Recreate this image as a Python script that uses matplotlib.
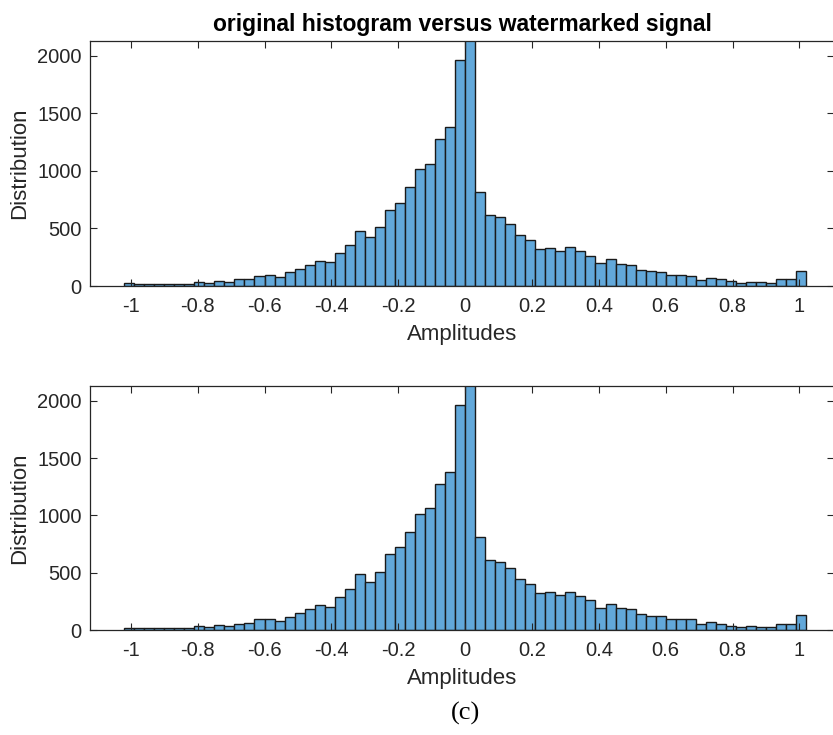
import numpy as np
import matplotlib.pyplot as plt

# histogram bins: 68 bins of width 0.03 from -1.02 to 1.02
bin_lo = -1.02
bin_w = 0.03
n_bins = 68

# counts per bin, original signal
orig_counts = [
    23, 14, 14, 20, 20, 14, 14, 32, 23, 46, 35, 61, 61, 87, 95, 78, 119,
    147, 185, 220, 206, 289, 353, 477, 425, 509, 665, 720, 862, 1016, 1062,
    1276, 1383, 1962, 2700, 816, 613, 596, 541, 446, 399, 321, 333, 307,
    336, 301, 263, 197, 231, 188, 179, 142, 127, 121, 95, 95, 90, 52, 72,
    58, 41, 23, 38, 32, 23, 58, 58, 127,
]

# counts per bin, watermarked signal
wm_counts = [
    20, 15, 15, 17, 17, 15, 15, 32, 23, 47, 32, 55, 58, 93, 93, 76, 110,
    146, 183, 215, 201, 288, 355, 489, 416, 506, 667, 722, 855, 1016, 1062,
    1277, 1379, 1964, 2700, 812, 608, 597, 538, 448, 402, 323, 332, 303,
    332, 297, 262, 189, 230, 189, 180, 140, 125, 119, 99, 93, 93, 49, 70,
    55, 32, 23, 38, 23, 26, 55, 55, 128,
]

x_ticks = [-1, -0.8, -0.6, -0.4, -0.2, 0, 0.2, 0.4, 0.6, 0.8, 1]
x_tick_labels = ['-1', '-0.8', '-0.6', '-0.4', '-0.2', '0', '0.2', '0.4', '0.6', '0.8', '1']
y_ticks = [0, 500, 1000, 1500, 2000]

plt.rcParams['font.family'] = ['Liberation Sans', 'DejaVu Sans']

edges = bin_lo + bin_w * np.arange(n_bins + 1)
centers = (edges[:-1] + edges[1:]) / 2

axis_col = '#262626'
face = '#62a8da'

fig = plt.figure(figsize=(8.33, 7.35), dpi=100)
ax1 = fig.add_axes([90 / 833, 1 - 286 / 735, 744.5 / 833, 245 / 735])
ax2 = fig.add_axes([90 / 833, 1 - 630 / 735, 744.5 / 833, 244 / 735])

for ax, counts in [(ax1, orig_counts), (ax2, wm_counts)]:
    ax.hist(centers, bins=edges, weights=counts, color=face,
            edgecolor='#1a1a1a', linewidth=1.0)
    ax.set_xlim(-1.122, 1.105)
    ax.set_ylim(0, 2130)
    ax.set_xticks(x_ticks)
    ax.set_xticklabels(x_tick_labels)
    ax.set_yticks(y_ticks)
    ax.tick_params(direction='in', top=True, right=True, length=5,
                   width=0.8, color=axis_col, labelcolor=axis_col,
                   labelsize=14.5)
    ax.tick_params(axis='x', pad=8)
    ax.tick_params(axis='y', pad=6)
    for s in ax.spines.values():
        s.set_color(axis_col)
        s.set_linewidth(0.9)
    ax.set_xlabel('Amplitudes', fontsize=16, color=axis_col, labelpad=6)
    ax.set_ylabel('Distribution', fontsize=16, color=axis_col, labelpad=5)

ax1.set_title('original histogram versus watermarked signal',
              fontsize=16.5, fontweight='bold', color='black', pad=7)

fig.text(465 / 833, 1 - 713 / 735, '(c)', ha='center', va='center',
         fontsize=19, family='Liberation Serif')

fig.savefig('out.png', dpi=100)
